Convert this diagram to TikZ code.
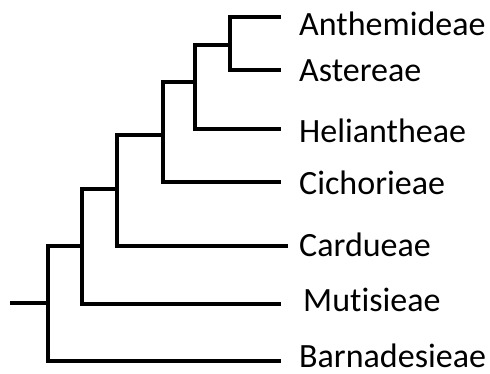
\documentclass[tikz,border=0pt]{standalone}
\usepackage{fontspec}
\setmainfont{Carlito}[Ligatures=NoCommon]
\usepackage{tikz}
\tikzset{
    branch/.style={line width=4pt, line join=miter},
    taxonlabel/.style={anchor=base west, inner sep=0pt, font=\fontsize{34}{40}\selectfont}
}
\begin{document}
\begin{tikzpicture}[x=1pt,y=-1pt]
            \useasboundingbox (0,0) rectangle (490,374);

            \coordinate (t1) at (281,17);
            \coordinate (t2) at (281,70);
            \coordinate (t3) at (281,129);
            \coordinate (t4) at (281,182);
            \coordinate (t5) at (288,246);
            \coordinate (t6) at (281,304);
            \coordinate (t7) at (281,361);

            \coordinate (n1) at (230,45);
            \coordinate (n2) at (195,82);
            \coordinate (n3) at (163,135);
            \coordinate (n4) at (117,189);
            \coordinate (n5) at (82,246);
            \coordinate (n6) at (48,303);
            \coordinate (root) at (10,303);

            \draw[branch] (t1) -| (n1) |- (t2);
            \draw[branch] (n1) -| (n2) |- (t3);
            \draw[branch] (n2) -| (n3) |- (t4);
            \draw[branch] (n3) -| (n4) |- (t5);
            \draw[branch] (n4) -| (n5) |- (t6);
            \draw[branch] (n5) -| (n6) |- (t7);
            \draw[branch] (n6) -- (root);

            \node[taxonlabel] (l1) at (299,36) {Anthemideae};
            \node[taxonlabel] (l2) at (299,82) {Astereae};
            \node[taxonlabel] (l3) at (299,143) {Heliantheae};
            \node[taxonlabel] (l4) at (299,195) {Cichorieae};
            \node[taxonlabel] (l5) at (299,256) {Cardueae};
            \node[taxonlabel] (l6) at (303,311) {Mutisieae};
            \node[taxonlabel] (l7) at (299,367) {Barnadesieae};
        \end{tikzpicture}
\end{document}
